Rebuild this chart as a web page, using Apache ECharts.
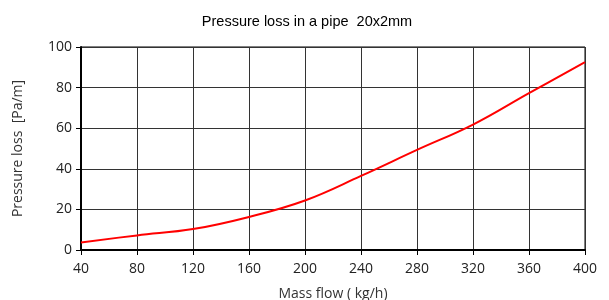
<!DOCTYPE html>
<html>
<head>
<meta charset="utf-8">
<script src="https://cdn.jsdelivr.net/npm/echarts@6/dist/echarts.min.js"></script>
<style>
  html, body { margin: 0; padding: 0; background: #fff; }
  #chart { width: 609px; height: 300px; }
</style>
</head>
<body>
<div id="chart"></div>
<script>
// mass flow (kg/h) and pressure loss (Pa/m)
const massFlow = [40, 80, 120, 160, 200, 240, 280, 320, 360, 400];
const pressureLoss = [3.7, 7.2, 10.3, 16.3, 24.4, 36.5, 49.3, 61.8, 77.3, 92.5];

const font = 'Open Sans, Liberation Sans, sans-serif';

let chart = echarts.init(document.getElementById('chart'));
chart.setOption({
  animation: false,
  title: {
    text: 'Pressure loss in a pipe  20x2mm',
    left: 302, top: 9, textAlign: 'center',
    textStyle: { fontSize: 14.5, fontWeight: 'normal', color: '#000', fontFamily: 'Liberation Sans, Arial, sans-serif' }
  },
  grid: {
    left: 81, right: 24, top: 47, bottom: 50, outerBoundsMode: 'none',
    show: true, borderColor: '#000', borderWidth: 1
  },
  xAxis: {
    type: 'value', min: 40, max: 400, interval: 40,
    name: 'Mass flow ( kg/h)', nameLocation: 'middle', nameGap: 37,
    nameTextStyle: { fontSize: 14, color: '#333', fontFamily: font },
    axisLine: { lineStyle: { color: '#000', width: 2 } },
    axisTick: { inside: false, length: 5, lineStyle: { color: '#000' } },
    axisLabel: { fontSize: 14, color: '#222', margin: 12, fontFamily: font },
    splitLine: { show: true, lineStyle: { color: '#333', width: 1 } }
  },
  yAxis: {
    type: 'value', min: 0, max: 100, interval: 20,
    name: 'Pressure loss  [Pa/m]', nameLocation: 'middle', nameGap: 56,
    nameTextStyle: { fontSize: 14, color: '#333', fontFamily: font },
    axisLine: { show: true, lineStyle: { color: '#000', width: 2 } },
    axisTick: { show: true, length: 5, lineStyle: { color: '#000' } },
    axisLabel: { fontSize: 14, color: '#222', margin: 9, fontFamily: font },
    splitLine: { show: true, lineStyle: { color: '#333', width: 1 } }
  },
  series: [{
    type: 'line',
    data: massFlow.map((x, i) => [x, pressureLoss[i]]),
    smooth: 0.4,
    showSymbol: false,
    lineStyle: { color: '#ff0000', width: 2 }
  }]
});
</script>
</body>
</html>
